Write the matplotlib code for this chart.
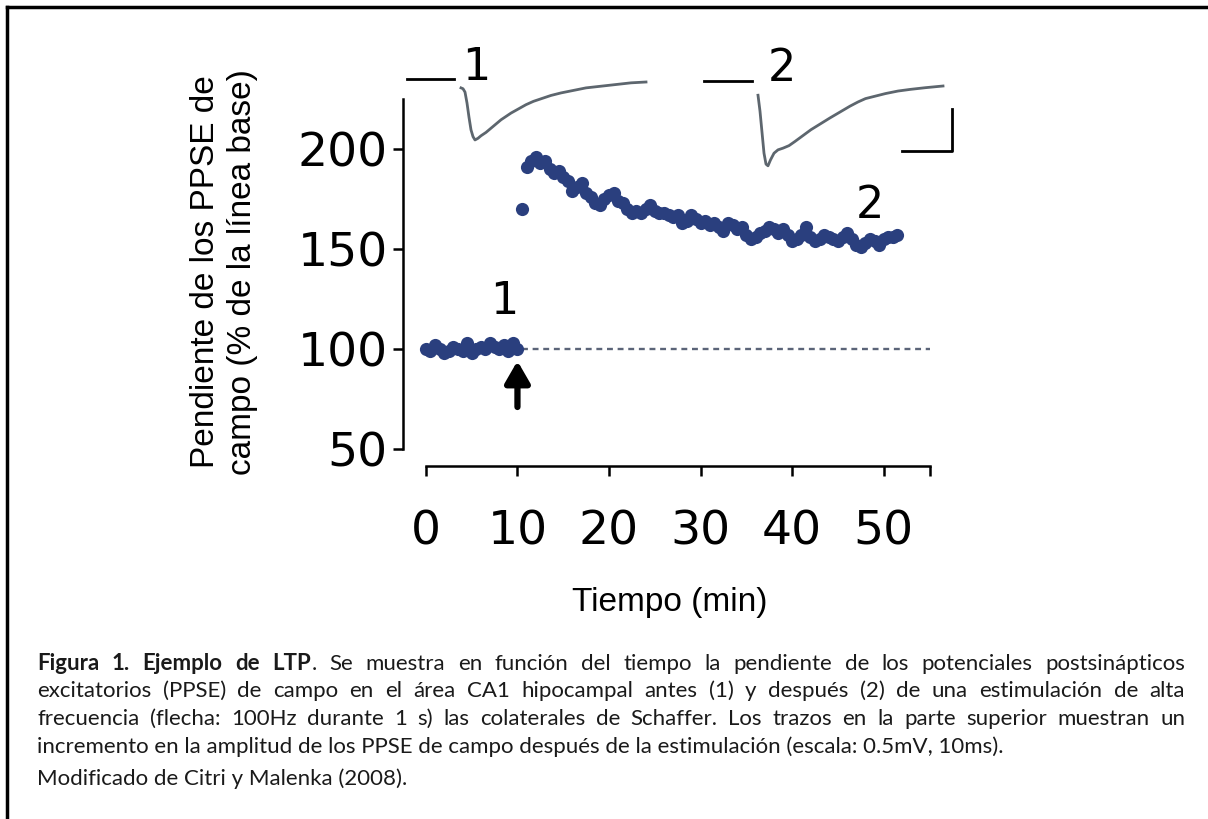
import numpy as np
import matplotlib
matplotlib.use("Agg")
import matplotlib.pyplot as plt

W, H = 1208, 819
DOT = '#2a3f7e'
TRACE = '#5d666e'

# baseline (before stimulation)
base_t = [0, 0.5, 1, 1.5, 2, 2.5, 3, 3.5, 4, 4.5, 5, 5.5, 6, 6.5, 7, 7.5, 8, 8.5, 9, 9.5, 10]
base_v = [100, 99, 102, 100, 98, 99, 101, 100, 99, 103, 98, 100, 101, 100, 103, 101, 100, 102, 99, 103, 100]

# after high frequency stimulation
post_t = [10.5, 11, 11.5, 12, 12.5, 13, 13.5, 14, 14.5, 15, 15.5, 16, 16.5, 17, 17.5, 18, 18.5,
          19, 19.5, 20, 20.5, 21, 21.5, 22, 22.5, 23, 23.5, 24, 24.5, 25, 25.5, 26, 26.5, 27,
          27.5, 28, 28.5, 29, 29.5, 30, 30.5, 31, 31.5, 32, 32.5, 33, 33.5, 34, 34.5, 35, 35.5,
          36, 36.5, 37, 37.5, 38, 38.5, 39, 39.5, 40, 40.5, 41, 41.5, 42, 42.5, 43, 43.5, 44,
          44.5, 45, 45.5, 46, 46.5, 47, 47.5, 48, 48.5, 49, 49.5, 50, 50.5, 51, 51.5]
post_v = [170, 191, 194, 196, 193, 194, 190, 188, 189, 186, 184, 179, 181, 183, 178, 176, 173,
          172, 175, 177, 178, 174, 173, 170, 168, 169, 168, 170, 172, 169, 168, 168, 167, 166,
          167, 163, 164, 167, 165, 163, 164, 162, 163, 161, 159, 163, 162, 160, 161, 157, 155,
          156, 158, 159, 161, 160, 158, 160, 157, 154, 155, 157, 161, 156, 154, 155, 157, 156,
          155, 154, 156, 158, 155, 152, 151, 153, 155, 154, 152, 155, 156, 156, 157]

# field EPSP traces (ms, mV)
tr1_t = [0, 0.4, 0.8, 1.2, 1.6, 2.0, 2.4, 2.8, 3.4, 4, 5, 6, 7, 8, 9, 10, 11.5, 13, 14.5, 16,
         18, 20, 22.5, 25, 28, 31, 34, 37]
tr1_v = [-0.07, -0.08, -0.12, -0.25, -0.42, -0.57, -0.65, -0.69, -0.67, -0.64, -0.60, -0.55,
         -0.50, -0.45, -0.41, -0.37, -0.32, -0.27, -0.23, -0.20, -0.16, -0.13, -0.10, -0.07,
         -0.05, -0.03, -0.01, 0.0]
tr2_t = [0, 0.4, 0.8, 1.2, 1.6, 2.0, 2.5, 3.2, 4.0, 5.0, 6.2, 7.4, 9, 10.6, 12.5, 14.4, 16.4,
         18.4, 20, 21.5, 23.5, 25.5, 28, 30.5, 33.5, 37]
tr2_v = [-0.11, -0.30, -0.55, -0.80, -0.93, -0.95, -0.88, -0.80, -0.76, -0.74, -0.71, -0.66,
         -0.59, -0.52, -0.45, -0.38, -0.31, -0.24, -0.19, -0.15, -0.12, -0.09, -0.06, -0.04,
         -0.02, 0.0]

xticks = [0, 10, 20, 30, 40, 50]
yticks = [50, 100, 150, 200]

plt.rcParams['font.family'] = ['Liberation Sans', 'DejaVu Sans']
NUMF = 'DejaVu Sans'

fig = plt.figure(figsize=(W / 100, H / 100), dpi=100)

def fx(px):
    return px / W

def fy(py):
    return 1 - py / H

# main axes
ax = fig.add_axes([fx(403), fy(466), (935 - 403) / W, (466 - 99) / H])
ax.set_xlim(-2.5, 55.6)
ax.set_ylim(41.5, 225)
ax.scatter(base_t, base_v, s=90, color=DOT, zorder=3, linewidths=0)
ax.scatter(post_t, post_v, s=90, color=DOT, zorder=3, linewidths=0)
ax.plot([10.5, 55], [100, 100], ls=(0, (2.5, 2)), color='#5b6478', lw=1.7, zorder=1)
ax.annotate('', xy=(10, 94), xytext=(10, 71),
            arrowprops=dict(arrowstyle='-|>,head_length=1.3,head_width=0.75', color='black', lw=4.5,
                            shrinkA=0, shrinkB=0))
ax.text(8.6, 124, '1', fontsize=32, ha='center', va='center', family=NUMF)
ax.text(48.5, 172, '2', fontsize=32, ha='center', va='center', family=NUMF)

for s in ['top', 'right']:
    ax.spines[s].set_visible(False)
ax.spines['left'].set_bounds(50, 225)
ax.spines['bottom'].set_bounds(0, 55)
for s in ['left', 'bottom']:
    ax.spines[s].set_linewidth(1.8)
ax.set_xticks(xticks + [55])
ax.set_xticklabels([str(v) for v in xticks] + [''], family=NUMF)
ax.set_yticks(yticks)
ax.set_yticklabels([str(v) for v in yticks], family=NUMF)
ax.tick_params(axis='both', direction='out', length=7, width=1.8, labelsize=34)
ax.tick_params(axis='x', pad=24)
ax.tick_params(axis='y', pad=4)
ax.set_facecolor('none')

fig.text(fx(670), fy(603), 'Tiempo (min)', fontsize=24, ha='center', va='center')
fig.text(fx(224), fy(272), 'Pendiente de los PPSE de\ncampo (% de la línea base)', fontsize=24,
         rotation=90, ha='center', va='center', linespacing=1.25)

# traces: 5 px per ms, 84 px per mV
def trace_axes(left_px, base_px):
    a = fig.add_axes([fx(left_px), fy(base_px + 84), 200 / W, 100.8 / H])
    a.set_xlim(0, 40)
    a.set_ylim(-1, 0.2)
    a.axis('off')
    return a

a1 = trace_axes(461, 82)
a1.plot(tr1_t, tr1_v, color=TRACE, lw=2, clip_on=False, solid_joinstyle='round')
a1.plot([-10.8, -1.4], [0.04, 0.04], color='black', lw=2, clip_on=False)
a1.text(3.0, 0.17, '1', fontsize=32, ha='center', va='center', family=NUMF)

a2 = trace_axes(758, 86)
a2.plot(tr2_t, tr2_v, color=TRACE, lw=2, clip_on=False, solid_joinstyle='round')
a2.plot([-10.8, -1.2], [0.06, 0.06], color='black', lw=2, clip_on=False)
a2.text(4.8, 0.21, '2', fontsize=32, ha='center', va='center', family=NUMF)
# scale bar 10 ms, 0.5 mV
a2.plot([28.8, 38.8, 38.8], [-0.77, -0.77, -0.27], color='black', lw=2, clip_on=False)

# frame
fig.add_artist(plt.Line2D([fx(7), fx(7)], [fy(7), 0], color='black', lw=2.5))
fig.add_artist(plt.Line2D([fx(7), 1], [fy(7), fy(7)], color='black', lw=2.5))

# caption, justified
CAP = 'Lato'
CAPC = '#1a1a1a'
cap_lines = [
    [[('Figura', 1)], [('1.', 1)], [('Ejemplo', 1)], [('de', 1)], [('LTP', 1), ('.', 0)]]
    + [[(w, 0)] for w in 'Se muestra en función del tiempo la pendiente de los potenciales postsinápticos'.split()],
    [[(w, 0)] for w in 'excitatorios (PPSE) de campo en el área CA1 hipocampal antes (1) y después (2) de una estimulación de alta'.split()],
    [[(w, 0)] for w in 'frecuencia (flecha: 100Hz durante 1 s) las colaterales de Schaffer. Los trazos en la parte superior muestran un'.split()],
]
line4 = 'incremento en la amplitud de los PPSE de campo después de la estimulación (escala: 0.5mV, 10ms).'
line5 = 'Modificado de Citri y Malenka (2008).'
cap_y = [664, 691, 719, 747, 779]
x0, x1 = 37, 1185

fig.canvas.draw()
r = fig.canvas.get_renderer()
probe = fig.text(0, 0, line4, fontsize=10, family=CAP)
fs = 10 * (1003 - x0) / probe.get_window_extent(r).width
probe.remove()

for li, words in enumerate(cap_lines):
    arts = []
    total = 0
    for wd in words:
        segs = []
        ww = 0
        for s, b in wd:
            t = fig.text(0, fy(cap_y[li]), s, fontsize=fs, family=CAP, color=CAPC,
                         fontweight='bold' if b else 'normal', va='center')
            w = t.get_window_extent(r).width
            segs.append((t, w))
            ww += w
        arts.append(segs)
        total += ww
    gap = (x1 - x0 - total) / (len(words) - 1)
    x = x0
    for segs in arts:
        for t, w in segs:
            t.set_x(fx(x))
            x += w
        x += gap

fig.text(fx(x0), fy(cap_y[3]), line4, fontsize=fs, family=CAP, color=CAPC, va='center')
fig.text(fx(x0), fy(cap_y[4]), line5, fontsize=fs, family=CAP, color=CAPC, va='center')

fig.savefig('out.png', dpi=100)
